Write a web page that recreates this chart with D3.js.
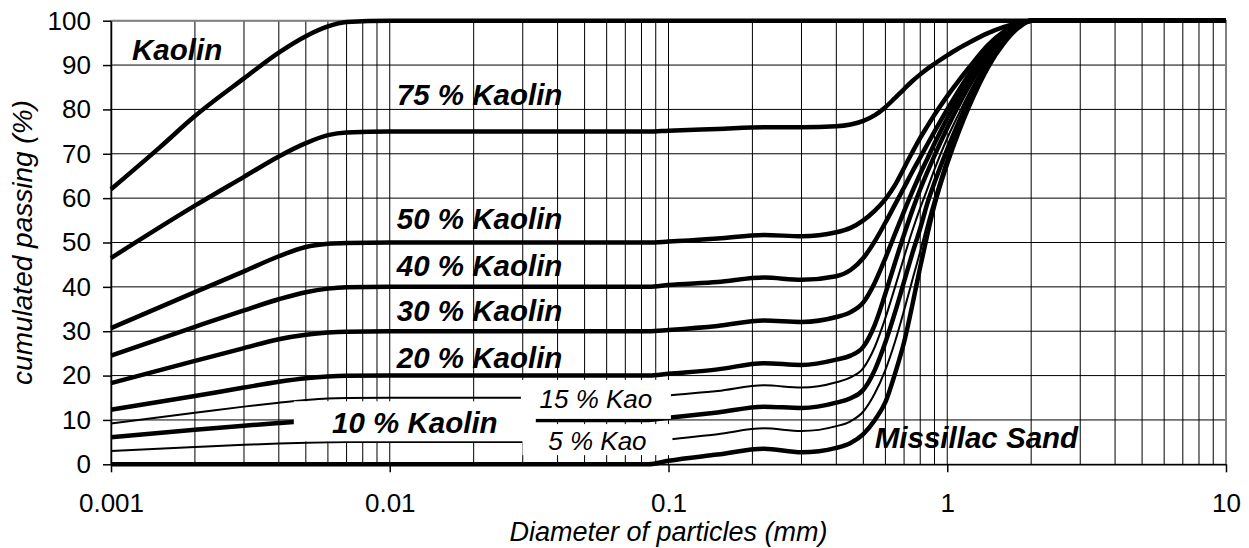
<!DOCTYPE html>
<html>
<head>
<meta charset="utf-8">
<script src="https://cdn.jsdelivr.net/npm/d3@7"></script>
<style>
body { margin: 0; background: #fff; }
text { font-family: "Liberation Sans", Arial, sans-serif; fill: #000; }
</style>
</head>
<body>
<div id="canvas"></div>
<script>
// tick values
const diameterTicks = [0.001, 0.01, 0.1, 1, 10];
const passingTicks = [0, 10, 20, 30, 40, 50, 60, 70, 80, 90, 100];

// grading curves: [diameter (mm), passing (%)]
const kaolin = [[0.001,62],[0.0015,71.5],[0.002,78.5],[0.003,87],[0.004,92.8],[0.005,96.5],[0.006,98.7],[0.007,99.7],[0.01,100],[10,100]];
const kaolin75 = [[0.001,46.5],[0.002,58.3],[0.003,64.8],[0.004,69.4],[0.005,72.4],[0.006,74.2],[0.007,74.8],[0.01,75],[0.085,75],[0.1,75.2],[0.15,75.6],[0.22,76],[0.3,76],[0.4,76.2],[0.45,76.6],[0.5,77.4],[0.55,78.7],[0.6,80.5],[0.65,82.6],[0.7,84.6],[0.75,86.4],[0.8,87.9],[0.85,89.2],[0.9,90.3],[1,92.2],[1.1,93.8],[1.2,95.1],[1.4,97.2],[1.6,98.6],[1.8,99.5],[2,100],[10,100]];
const kaolin50 = [[0.001,30.7],[0.002,38.8],[0.003,43.5],[0.004,46.9],[0.005,49],[0.006,49.7],[0.007,49.9],[0.01,50],[0.085,50],[0.1,50.2],[0.15,50.9],[0.22,51.7],[0.3,51.4],[0.4,52.3],[0.45,53.3],[0.5,55],[0.55,57.2],[0.6,59.8],[0.65,63],[0.7,66.8],[0.75,70.4],[0.8,73.6],[0.85,76.3],[0.9,78.8],[1,83],[1.1,86.5],[1.2,89.5],[1.4,94.5],[1.6,97.6],[1.8,99.3],[2,100],[10,100]];
const kaolin40 = [[0.001,24.5],[0.002,31],[0.003,34.7],[0.004,37.2],[0.005,38.8],[0.006,39.6],[0.007,39.9],[0.01,40],[0.085,40],[0.1,40.4],[0.15,41.1],[0.22,42.1],[0.3,41.6],[0.4,42.4],[0.45,43.8],[0.5,46.5],[0.55,50.3],[0.6,54.5],[0.65,58.6],[0.7,62.4],[0.75,66],[0.8,69.2],[0.85,72.2],[0.9,75],[1,80],[1.1,84.3],[1.2,88],[1.4,93.5],[1.6,97],[1.8,99],[2,100],[10,100]];
const kaolin30 = [[0.001,18.3],[0.002,23.3],[0.003,26.2],[0.004,28.2],[0.005,29.2],[0.006,29.7],[0.007,29.9],[0.01,30],[0.085,30],[0.1,30.3],[0.15,31.2],[0.22,32.4],[0.3,32.1],[0.4,33.2],[0.45,34.3],[0.5,36.5],[0.55,41],[0.6,46.5],[0.65,52],[0.7,57],[0.75,61.5],[0.8,65.5],[0.85,69],[0.9,72.3],[1,78],[1.1,82.8],[1.2,86.8],[1.4,92.8],[1.6,96.6],[1.8,98.9],[2,100],[10,100]];
const kaolin20 = [[0.001,12.3],[0.002,15.4],[0.003,17.3],[0.004,18.6],[0.005,19.4],[0.006,19.8],[0.007,19.95],[0.01,20],[0.085,20],[0.1,20.4],[0.15,21.4],[0.22,22.8],[0.3,22.4],[0.4,23.6],[0.45,24.5],[0.5,26.5],[0.55,31.5],[0.6,38.5],[0.65,45.5],[0.7,51.8],[0.75,57.3],[0.8,62],[0.85,66],[0.9,69.6],[1,75.8],[1.1,81],[1.2,85.4],[1.4,92],[1.6,96.3],[1.8,98.8],[2,100],[10,100]];
const kaolin15 = [[0.001,9.2],[0.002,11.6],[0.003,13],[0.004,13.9],[0.005,14.5],[0.006,14.85],[0.007,14.95],[0.01,15],[0.085,15],[0.1,15.5],[0.15,16.5],[0.22,17.8],[0.3,17.3],[0.4,18.5],[0.45,19.6],[0.5,21.7],[0.55,26.5],[0.6,33],[0.65,40],[0.7,46.7],[0.75,52.7],[0.8,57.8],[0.85,62.2],[0.9,66.5],[1,73.5],[1.1,79],[1.2,83.8],[1.4,91.2],[1.6,96],[1.8,98.7],[2,100],[10,100]];
const kaolin10 = [[0.001,6.1],[0.002,7.8],[0.003,8.7],[0.004,9.3],[0.005,9.7],[0.006,9.9],[0.007,9.95],[0.01,10],[0.085,10],[0.1,10.5],[0.15,11.7],[0.22,13],[0.3,12.7],[0.4,13.9],[0.45,14.9],[0.5,16.8],[0.55,21.3],[0.6,27.5],[0.65,34.3],[0.7,41.2],[0.75,47.6],[0.8,53.2],[0.85,59],[0.9,63.5],[1,71],[1.1,77.2],[1.2,82.6],[1.4,90.7],[1.6,95.8],[1.8,98.6],[2,100],[10,100]];
const kaolin5 = [[0.001,3],[0.002,3.9],[0.003,4.4],[0.004,4.7],[0.005,4.85],[0.006,4.95],[0.007,5],[0.085,5],[0.1,5.6],[0.15,6.8],[0.22,8.1],[0.3,7.5],[0.4,8.6],[0.45,9.7],[0.5,11.9],[0.55,16],[0.6,21.3],[0.65,27.7],[0.7,34.7],[0.75,41.6],[0.8,48],[0.85,54.5],[0.9,60],[1,69.2],[1.1,76],[1.2,81.6],[1.4,90],[1.6,95.5],[1.8,98.5],[2,100],[10,100]];
const missillacSand = [[0.001,0],[0.085,0],[0.1,0.8],[0.15,2.2],[0.22,3.5],[0.3,2.7],[0.4,3.7],[0.45,4.8],[0.5,6.8],[0.55,10],[0.6,14],[0.65,20.5],[0.7,27.5],[0.75,36],[0.8,44.5],[0.85,52],[0.9,58.5],[1,67.8],[1.1,75],[1.2,80.8],[1.4,89.5],[1.6,95],[1.8,98.4],[2,100],[10,100]];

// curve labels
const labelNames = ["Kaolin", "75 % Kaolin", "50 % Kaolin", "40 % Kaolin", "30 % Kaolin", "20 % Kaolin", "15 % Kao", "10 % Kaolin", "5 % Kao", "Missillac Sand"];

// define svg canvas
const margin = {top: 20.7, right: 23, bottom: 83.7, left: 111},
	width = 1249 - margin.left - margin.right,
	height = 548 - margin.top - margin.bottom;

const svg = d3.select("#canvas")
	.append("svg")
	.attr("width", 1249)
	.attr("height", 548),
svgGroup = svg.append("g")
	.attr("transform", "translate(" + margin.left + "," + margin.top + ")");

// define scales
const x = d3.scaleLog()
	.domain([0.001, 10])
	.range([0, width]);

const y = d3.scaleLinear()
	.domain([0, 100])
	.range([height, 0]);

// plot gridlines
svgGroup.append("g")
	.selectAll("line")
	.data(x.ticks())
	.join("line")
	.attr("x1", d => x(d))
	.attr("x2", d => x(d))
	.attr("y1", 0)
	.attr("y2", height)
	.attr("stroke", "#000")
	.attr("stroke-width", 1);

svgGroup.append("g")
	.selectAll("line")
	.data(passingTicks)
	.join("line")
	.attr("x1", 0)
	.attr("x2", width)
	.attr("y1", d => y(d))
	.attr("y2", d => y(d))
	.attr("stroke", "#000")
	.attr("stroke-width", 1);

// plot frame (top and right)
svgGroup.append("path")
	.attr("d", "M0,0H" + width + "V" + height)
	.attr("fill", "none")
	.attr("stroke", "#808080")
	.attr("stroke-width", 2);

// plot axes
const yAxis = svgGroup.append("g")
	.call(d3.axisLeft(y).tickValues(passingTicks).tickSize(8).tickSizeOuter(0).tickPadding(12));

const xAxis = svgGroup.append("g")
	.attr("transform", "translate(0," + height + ")")
	.call(d3.axisBottom(x).tickValues(diameterTicks).tickFormat(d => String(d)).tickSize(8).tickSizeOuter(0).tickPadding(21));

[xAxis, yAxis].forEach(axis => {
	axis.selectAll("path, line").attr("stroke", "#000").attr("stroke-width", 1.5);
	axis.selectAll("text")
		.style("font-family", "'Liberation Sans', Arial, sans-serif")
		.style("font-size", "26px")
		.attr("fill", "#000");
});

// plot curves
const curves = [
	{points: kaolin, weight: 4.5},
	{points: kaolin75, weight: 4.5},
	{points: kaolin50, weight: 4.5},
	{points: kaolin40, weight: 4.5},
	{points: kaolin30, weight: 4.5},
	{points: kaolin20, weight: 4.5},
	{points: kaolin15, weight: 2},
	{points: kaolin10, weight: 4.5},
	{points: kaolin5, weight: 2},
	{points: missillacSand, weight: 4.5}
];

const line = d3.line()
	.curve(d3.curveMonotoneX)
	.x(d => x(d[0]))
	.y(d => y(d[1]));

curves.forEach(c => {
	svgGroup.append("path")
		.datum(c.points)
		.attr("fill", "none")
		.attr("stroke", "#000")
		.attr("stroke-width", c.weight)
		.attr("stroke-linejoin", "round")
		.attr("d", line);
});

// label placement (diameter, passing of the text anchor point)
const labelPlacement = [
	{d: 0.00119, v: 91.2, anchor: "start", bold: true},
	{d: 0.0106, v: 81, anchor: "start", bold: true},
	{d: 0.0106, v: 53, anchor: "start", bold: true},
	{d: 0.0106, v: 42.5, anchor: "start", bold: true},
	{d: 0.0106, v: 32.2, anchor: "start", bold: true},
	{d: 0.0106, v: 21.7, anchor: "start", bold: true},
	{d: 0.0549, v: 12.6, anchor: "middle", bold: false, box: {w: 150, up: 28.5, down: 10.5}},
	{d: 0.0123, v: 7.1, anchor: "middle", bold: true, box: {w: 242, up: 31.5, down: 8.5}},
	{d: 0.0556, v: 3.2, anchor: "middle", bold: false, box: {w: 150, up: 26, down: 5}},
	{d: 0.5496, v: 3.6, anchor: "start", bold: true}
];

// white boxes behind the lower labels
labelPlacement.forEach(p => {
	if (!p.box) return;
	svgGroup.append("rect")
		.attr("x", x(p.d) - p.box.w / 2)
		.attr("y", y(p.v) - p.box.up)
		.attr("width", p.box.w)
		.attr("height", p.box.up + p.box.down)
		.attr("fill", "#fff");
});

labelNames.forEach((name, i) => {
	const p = labelPlacement[i];
	svgGroup.append("text")
		.attr("x", x(p.d))
		.attr("y", y(p.v))
		.attr("text-anchor", p.anchor)
		.style("font-size", p.bold ? "29.5px" : "26px")
		.style("font-weight", p.bold ? "bold" : "normal")
		.style("font-style", "italic")
		.text(name);
});

// axis titles
svgGroup.append("text")
	.attr("x", width / 2)
	.attr("y", height + 77)
	.attr("text-anchor", "middle")
	.style("font-size", "27px")
	.style("font-style", "italic")
	.text("Diameter of particles (mm)");

svgGroup.append("text")
	.attr("transform", "translate(" + (32 - margin.left) + "," + (height / 2) + ") rotate(-90)")
	.attr("text-anchor", "middle")
	.style("font-size", "28px")
	.style("font-style", "italic")
	.text("cumulated passing (%)");
</script>
</body>
</html>
